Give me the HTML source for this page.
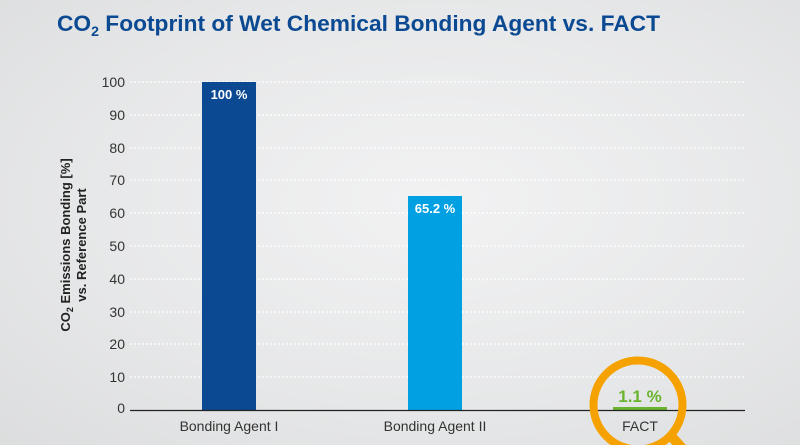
<!DOCTYPE html>
<html><head><meta charset="utf-8"><style>
body{margin:0;width:800px;height:445px;overflow:hidden;background:radial-gradient(ellipse at 55% 45%,#f2f2f3 0%,#e6e7e8 60%,#dcddde 100%);font-family:"Liberation Sans",sans-serif}
</style></head><body>
<svg width="800" height="445" xmlns="http://www.w3.org/2000/svg" style="position:absolute;left:0;top:0">
<text x="57" y="31" font-size="22.5" font-weight="bold" fill="#0b4a92" font-family="Liberation Sans" textLength="603" lengthAdjust="spacingAndGlyphs">CO<tspan font-size="14" dy="5">2</tspan><tspan dy="-5"> Footprint of Wet Chemical Bonding Agent vs. FACT</tspan></text>
<g stroke="#ffffff" stroke-width="1.2" stroke-dasharray="2,2">
<line x1="130" x2="745" y1="82" y2="82"/><line x1="130" x2="745" y1="115" y2="115"/><line x1="130" x2="745" y1="148" y2="148"/><line x1="130" x2="745" y1="180" y2="180"/><line x1="130" x2="745" y1="213" y2="213"/><line x1="130" x2="745" y1="246" y2="246"/><line x1="130" x2="745" y1="279" y2="279"/><line x1="130" x2="745" y1="312" y2="312"/><line x1="130" x2="745" y1="344" y2="344"/><line x1="130" x2="745" y1="377" y2="377"/>
</g>
<g font-size="14" fill="#333" text-anchor="end">
<text x="125" y="87">100</text><text x="125" y="120">90</text><text x="125" y="153">80</text><text x="125" y="185">70</text><text x="125" y="218">60</text><text x="125" y="251">50</text><text x="125" y="284">40</text><text x="125" y="317">30</text><text x="125" y="349">20</text><text x="125" y="382">10</text><text x="125" y="413">0</text>
</g>
<text transform="translate(70,245) rotate(-90)" text-anchor="middle" font-size="13" font-weight="bold" fill="#222">CO<tspan font-size="9" dy="3">2</tspan><tspan dy="-3"> Emissions Bonding [%]</tspan></text>
<text transform="translate(86,245) rotate(-90)" text-anchor="middle" font-size="13" font-weight="bold" fill="#222">vs. Reference Part</text>
<rect x="202" y="82" width="54" height="328" fill="#0b4a92"/>
<text x="229" y="99" text-anchor="middle" font-size="13" font-weight="bold" fill="#fff">100 %</text>
<rect x="408" y="196" width="54" height="214" fill="#00a0e3"/>
<text x="435" y="213" text-anchor="middle" font-size="13" font-weight="bold" fill="#fff">65.2 %</text>
<rect x="613" y="407" width="54" height="3" fill="#6ab42d"/>
<line x1="130" x2="745" y1="410.5" y2="410.5" stroke="#222" stroke-width="1.2"/>
<text x="229" y="431" text-anchor="middle" font-size="14" fill="#333">Bonding Agent I</text>
<text x="435" y="431" text-anchor="middle" font-size="14" fill="#333">Bonding Agent II</text>
<text x="640" y="431" text-anchor="middle" font-size="14" fill="#333">FACT</text>
<text x="640" y="402" text-anchor="middle" font-size="17" font-weight="bold" fill="#6ab42d">1.1 %</text>
<circle cx="638" cy="405" r="44.5" fill="none" stroke="#f5a100" stroke-width="8"/>
<line x1="672" y1="437" x2="690" y2="457" stroke="#f5a100" stroke-width="10"/>
</svg>
</body></html>
